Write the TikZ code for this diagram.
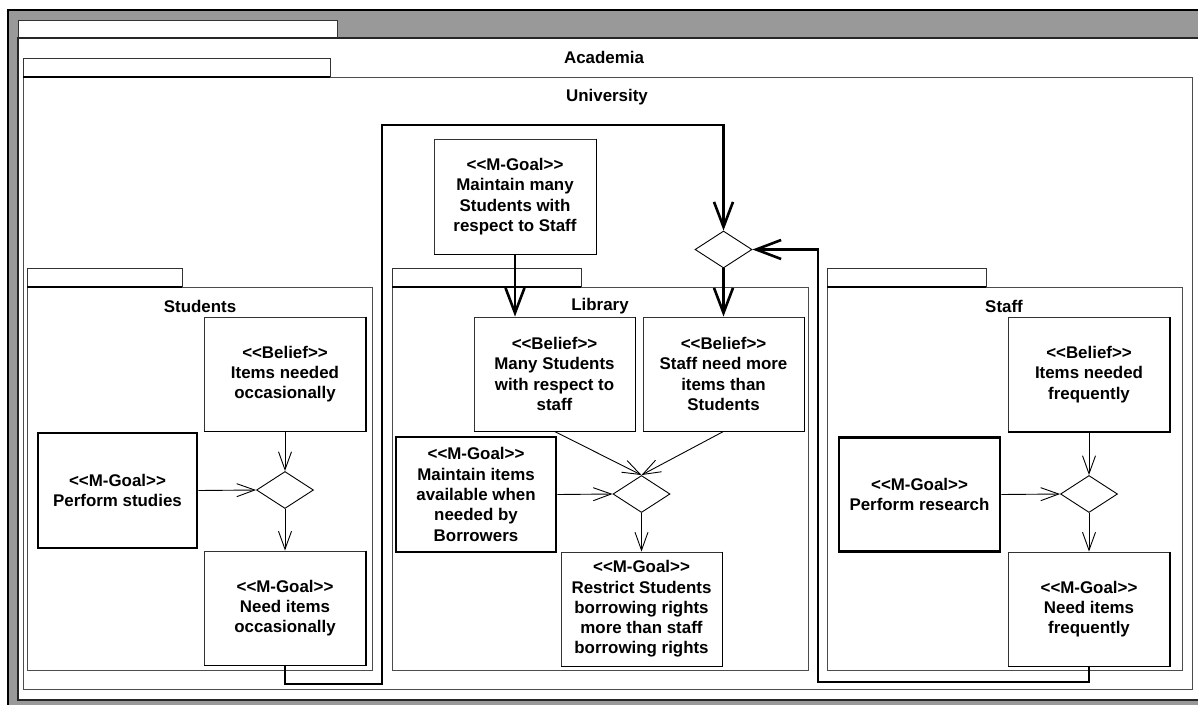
\documentclass[tikz,border=0pt]{standalone}
\usepackage{fontspec}
\setmainfont{Liberation Sans}
\usetikzlibrary{arrows.meta,shapes.geometric}
\definecolor{wingrey}{RGB}{153,153,153}
\newcommand\stereo[1]{{<}{<}#1{>}{>}}

\begin{document}
\begin{tikzpicture}[x=1pt,y=-1pt,
  every node/.style={font=\fontsize{16.9}{20.3}\selectfont\bfseries},
  label/.style={inner sep=0pt},
  box/.style={draw=black!80, line width=0.9pt, fill=white, align=center,
    inner sep=0pt, minimum width=161pt, minimum height=114pt},
  goalbox/.style={box, draw=black, line width=2.6pt},
  decision/.style={draw, diamond, fill=white, line width=0.9pt, inner sep=0pt,
    minimum width=57pt, minimum height=37pt},
  tabshape/.style={draw=black!80, fill=white, line width=0.8pt},
  pkgframe/.style={draw=black!70, line width=0.9pt},
  tabline/.style={line width=1.5pt},
  flow/.style={line width=0.9pt, -{Straight Barb[length=18pt,width=13pt]}},
  mainflow/.style={line width=2.6pt, -{Straight Barb[length=25pt,width=19pt]}},
  edgeshade/.style={line width=1.8pt}]

\useasboundingbox (0,0) rectangle (1198,704);
\clip (0,0) rectangle (1198,704);

% window background
\fill[wingrey] (8,10) rectangle (1210,720);
\draw[line width=2pt] (8,720) -- (8,10) -- (1210,10);

% Academia package
\draw[tabshape] (18,38) -- (18,20) -- (337,20) -- (337,38);
\draw[fill=white, draw=black!85, line width=1.2pt] (18,38) rectangle (1210,700);
\node[label] (academia) at (604,57) {Academia};

% University package
\draw[tabshape] (23,77) -- (23,58) -- (330,58) -- (330,77);
\draw[pkgframe] (23,77) rectangle (1192,689);
\draw[tabline] (23,77) -- (330,77);
\node[label] (university) at (607,97) {University};

% Students package
\draw[tabshape] (27,287) -- (27,268) -- (182,268) -- (182,287);
\draw[pkgframe] (27,287) rectangle (372,670);
\draw[tabline] (27,287) -- (182,287);
\node[label] (students) at (200,306) {Students};

% Library package
\draw[tabshape] (392,287) -- (392,268) -- (581,268) -- (581,287);
\draw[pkgframe] (392,287) rectangle (808,670);
\draw[tabline] (392,287) -- (581,287);
\node[label] (library) at (600,306) {Library};

% Staff package
\draw[tabshape] (827,287) -- (827,268) -- (986,268) -- (986,287);
\draw[pkgframe] (827,287) rectangle (1182,670);
\draw[tabline] (827,287) -- (986,287);
\node[label] (staff) at (1004,306) {Staff};

% Students goals and beliefs
\node[box] (sBel) at (285,374) {\stereo{Belief}\\Items needed\\occasionally};
\node[goalbox, minimum width=159pt, minimum height=115pt] (sGoal) at (117.5,490.5) {\stereo{M-Goal}\\Perform studies};
\node[decision] (sD) at (285,490) {};
\node[box] (sNeed) at (285,608) {\stereo{M-Goal}\\Need items\\occasionally};

% Library goals and beliefs
\node[box, minimum width=162pt, minimum height=115pt] (lMaint) at (515,196.5) {\stereo{M-Goal}\\Maintain many\\Students with\\respect to Staff};
\node[decision] (tD) at (723.5,249.5) {};
\node[box] (lBel1) at (554.5,374) {\stereo{Belief}\\Many Students\\with respect to\\staff};
\node[box] (lBel2) at (723.5,374) {\stereo{Belief}\\Staff need more\\items than\\Students};
\node[goalbox, minimum width=160pt, minimum height=115pt] (lGoal) at (476,494.5) {\stereo{M-Goal}\\Maintain items\\available when\\needed by\\Borrowers};
\node[decision] (lD) at (641.5,494) {};
\node[box] (lRest) at (641.5,609) {\stereo{M-Goal}\\Restrict Students\\borrowing rights\\more than staff\\borrowing rights};

% Staff goals and beliefs
\node[box] (fBel) at (1089,374.5) {\stereo{Belief}\\Items needed\\frequently};
\node[goalbox] (fGoal) at (919.5,494.5) {\stereo{M-Goal}\\Perform research};
\node[decision] (fD) at (1089,494) {};
\node[box] (fNeed) at (1089,609) {\stereo{M-Goal}\\Need items\\frequently};

% heavier right and bottom edges of the plain boxes
\foreach \n in {sBel,sNeed,lMaint,lBel1,lBel2,lRest,fBel,fNeed}
  \draw[edgeshade] (\n.north east) -- (\n.south east) -- (\n.south west);

% thin flows
\draw[flow] (sBel.south) -- (sD.north);
\draw[flow] (sGoal.east) -- (sD.west);
\draw[flow] (sD.south) -- (sNeed.north);
\draw[flow] (lBel1.south) -- (lD.north);
\draw[flow] (lBel2.south) -- (lD.north);
\draw[flow] (lGoal.east) -- (lD.west);
\draw[flow] (lD.south) -- (lRest.north);
\draw[flow] (fBel.south) -- (fD.north);
\draw[flow] (fGoal.east) -- (fD.west);
\draw[flow] (fD.south) -- (fNeed.north);

% heavy flows
\coordinate (sLow) at (382,684);
\coordinate (sTop) at (382,125);
\coordinate (fLow) at (818,682);
\draw[mainflow] (sNeed.south) |- (sLow) -- (sTop) -| (tD.north);
\draw[mainflow] (fNeed.south) |- (fLow) |- (tD.east);
\draw[mainflow] (lMaint.south) -- (lMaint.south |- lBel1.north);
\draw[mainflow] (tD.south) -- (lBel2.north);

\end{tikzpicture}
\end{document}
